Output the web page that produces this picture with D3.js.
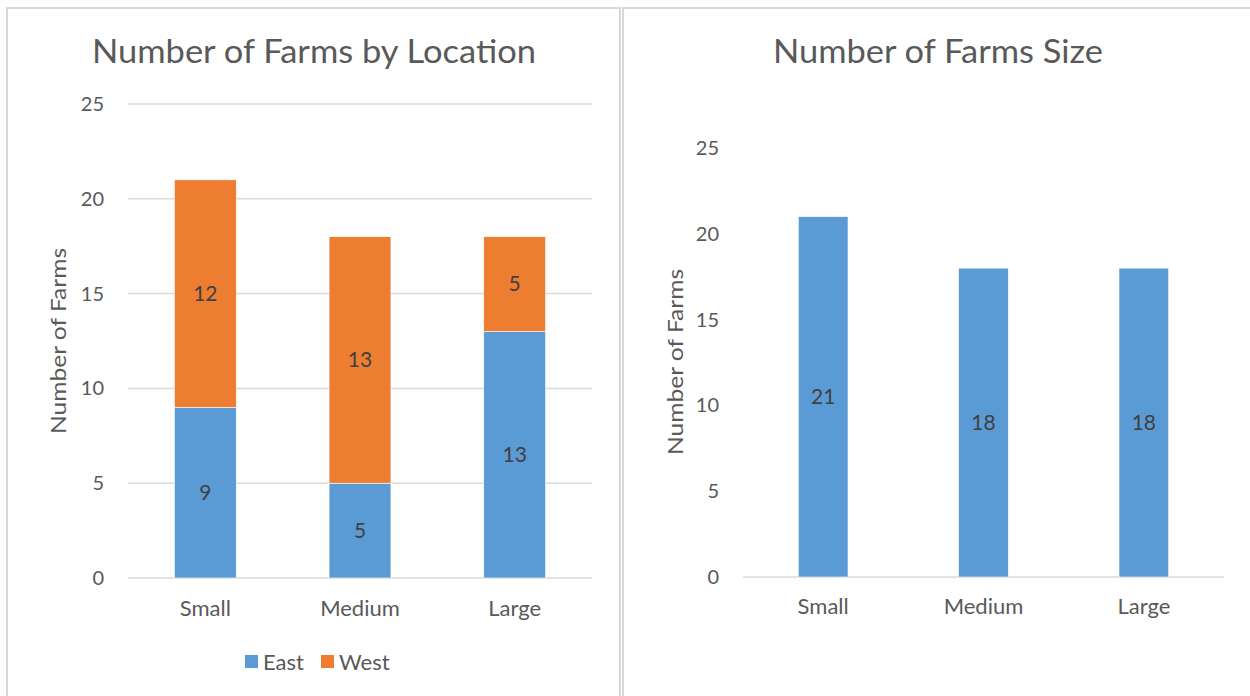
<!DOCTYPE html>
<html>
<head>
<meta charset="utf-8">
<script src="https://cdn.jsdelivr.net/npm/d3@7"></script>
<style>
  body { margin: 0; background: #fff; }
  text { font-family: Lato, "Open Sans", sans-serif; fill: #595959; }
</style>
</head>
<body>
<svg id="foo" width="1250" height="696"></svg>
<script>
// data
var sizes = ["Small", "Medium", "Large"];
var seriesNames = ["East", "West"];
var eastValues = [9, 5, 13];
var westValues = [12, 13, 5];
var totalValues = [21, 18, 18];
var yTicks = [0, 5, 10, 15, 20, 25];

var colors = { East: "#5B9BD5", West: "#ED7D31" };
var svg = d3.select("#foo");

// panel frames
svg.append("rect")
  .attr("x", 7).attr("y", 8)
  .attr("width", 613).attr("height", 700)
  .style("fill", "none").style("stroke", "#d9d9d9").style("stroke-width", 2);
svg.append("rect")
  .attr("x", 623).attr("y", 8)
  .attr("width", 640).attr("height", 700)
  .style("fill", "none").style("stroke", "#d9d9d9").style("stroke-width", 2);

function drawTitle(text, cx, width) {
  svg.append("text")
    .attr("x", cx)
    .attr("y", 63)
    .attr("text-anchor", "middle")
    .attr("textLength", width)
    .attr("lengthAdjust", "spacingAndGlyphs")
    .style("font-size", "33px")
    .text(text);
}

function drawYLabel(cx, cy) {
  svg.append("text")
    .attr("transform", "translate(" + cx + "," + cy + ") rotate(-90)")
    .attr("text-anchor", "middle")
    .attr("dy", "0.35em")
    .attr("textLength", 186)
    .attr("lengthAdjust", "spacingAndGlyphs")
    .style("font-size", "22px")
    .text("Number of Farms");
}

// ---------- left chart: stacked ----------
var x1 = d3.scaleBand().domain(sizes).range([128, 592])
  .paddingInner(0.6).paddingOuter(0.3);
var y1 = d3.scaleLinear().domain([0, 25]).range([578, 104]);

drawTitle("Number of Farms by Location", 314, 444);

var g1 = svg.append("g");
g1.selectAll(".grid")
  .data(yTicks)
  .enter().append("line")
  .attr("x1", 128).attr("x2", 592)
  .attr("y1", function(d) { return y1(d); })
  .attr("y2", function(d) { return y1(d); })
  .style("stroke", "#d9d9d9")
  .style("stroke-width", 1.5);

g1.append("g")
  .attr("transform", "translate(128,0)")
  .call(d3.axisLeft(y1).tickValues(yTicks).tickSize(0).tickPadding(24))
  .call(function(g) { g.select(".domain").remove(); })
  .selectAll("text")
  .style("font-size", "20px").style("fill", "#595959")
  .style("font-family", "Lato");

var stackData = sizes.map(function(s, i) {
  return { size: s, East: eastValues[i], West: westValues[i] };
});
var stacked = d3.stack().keys(seriesNames)(stackData);

stacked.forEach(function(layer) {
  g1.selectAll(".bar-" + layer.key)
    .data(layer)
    .enter().append("rect")
    .attr("x", function(d) { return x1(d.data.size); })
    .attr("y", function(d) { return y1(d[1]); })
    .attr("width", x1.bandwidth())
    .attr("height", function(d) { return y1(d[0]) - y1(d[1]); })
    .style("fill", colors[layer.key])
    .style("stroke", "#fff")
    .style("stroke-width", 0.6);

  g1.selectAll(".lbl-" + layer.key)
    .data(layer)
    .enter().append("text")
    .attr("x", function(d) { return x1(d.data.size) + x1.bandwidth() / 2; })
    .attr("y", function(d) { return y1((d[0] + d[1]) / 2); })
    .attr("text-anchor", "middle")
    .attr("dy", "0.35em")
    .style("font-size", "21px")
    .style("fill", "#404040")
    .text(function(d) { return d[1] - d[0]; });
});

g1.append("g")
  .attr("transform", "translate(0,578)")
  .call(d3.axisBottom(x1).tickSize(0).tickPadding(22))
  .call(function(g) { g.select(".domain").remove(); })
  .selectAll("text")
  .style("font-size", "22px").style("fill", "#595959")
  .style("font-family", "Lato");

drawYLabel(58, 341);

// legend
var legend = svg.append("g");
var legendX = [245, 321];
seriesNames.forEach(function(name, i) {
  legend.append("rect")
    .attr("x", legendX[i]).attr("y", 655)
    .attr("width", 13).attr("height", 13)
    .style("fill", colors[name]);
  legend.append("text")
    .attr("x", legendX[i] + 18).attr("y", 662)
    .attr("dy", "0.35em")
    .style("font-size", "22px")
    .text(name);
});

// ---------- right chart: totals ----------
var x2 = d3.scaleBand().domain(sizes).range([743, 1224])
  .paddingInner(0.69).paddingOuter(0.345);
var y2 = d3.scaleLinear().domain([0, 25]).range([577, 148]);

drawTitle("Number of Farms Size", 938, 330);

var g2 = svg.append("g");
g2.append("line")
  .attr("x1", 743).attr("x2", 1224)
  .attr("y1", y2(0)).attr("y2", y2(0))
  .style("stroke", "#d9d9d9")
  .style("stroke-width", 1.5);

g2.append("g")
  .attr("transform", "translate(743,0)")
  .call(d3.axisLeft(y2).tickValues(yTicks).tickSize(0).tickPadding(24))
  .call(function(g) { g.select(".domain").remove(); })
  .selectAll("text")
  .style("font-size", "20px").style("fill", "#595959")
  .style("font-family", "Lato");

g2.selectAll(".bar")
  .data(totalValues)
  .enter().append("rect")
  .attr("x", function(d, i) { return x2(sizes[i]); })
  .attr("y", function(d) { return y2(d); })
  .attr("width", x2.bandwidth())
  .attr("height", function(d) { return y2(0) - y2(d); })
  .style("fill", colors.East)
  .style("stroke", "#fff")
  .style("stroke-width", 0.6);

g2.selectAll(".lbl")
  .data(totalValues)
  .enter().append("text")
  .attr("x", function(d, i) { return x2(sizes[i]) + x2.bandwidth() / 2; })
  .attr("y", function(d) { return y2(d / 2); })
  .attr("text-anchor", "middle")
  .attr("dy", "0.35em")
  .style("font-size", "21px")
  .style("fill", "#404040")
  .text(function(d) { return d; });

g2.append("g")
  .attr("transform", "translate(0,577)")
  .call(d3.axisBottom(x2).tickSize(0).tickPadding(21))
  .call(function(g) { g.select(".domain").remove(); })
  .selectAll("text")
  .style("font-size", "22px").style("fill", "#595959")
  .style("font-family", "Lato");

drawYLabel(675, 362);
</script>
</body>
</html>
